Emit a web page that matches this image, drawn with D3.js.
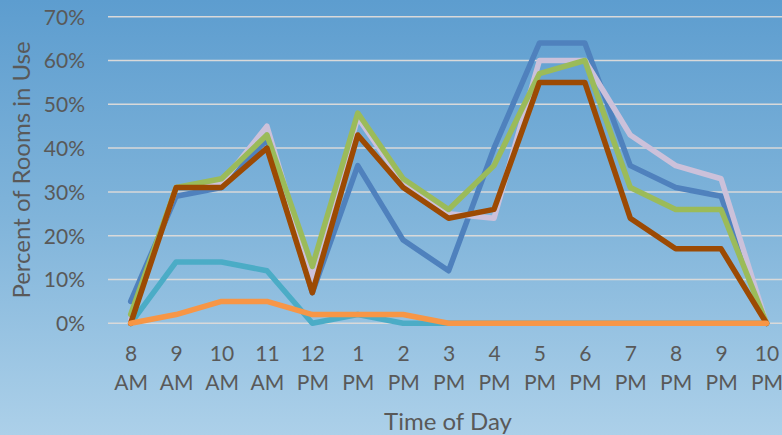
<!DOCTYPE html>
<html><head><meta charset="utf-8">
<script src="https://cdn.jsdelivr.net/npm/d3@7"></script>
<style>body{margin:0;overflow:hidden}svg{display:block}</style>
</head><body>
<svg id="c" width="782" height="435"></svg>
<script>
const hours = ["8","9","10","11","12","1","2","3","4","5","6","7","8","9","10"];
const periods = ["AM","AM","AM","AM","PM","PM","PM","PM","PM","PM","PM","PM","PM","PM","PM"];
const categories = hours.map((h,i)=>h+" "+periods[i]);
const yTicks = [0,10,20,30,40,50,60,70];
const seriesBlue     = [5,29,31,42,7,36,19,12,40,64,64,36,31,29,0];
const seriesLavender = [1,31,32,45,10,47,32,25,24,60,60,43,36,33,0];
const seriesGreen    = [2,31,33,43,13,48,33,26,36,57,60,31,26,26,0];
const seriesTeal     = [0,14,14,12,0,2,0,0,0,0,0,0,0,0,0];
const seriesBrown    = [0,31,31,40,7,43,31,24,26,55,55,24,17,17,0];
const seriesOrange   = [0,2,5,5,2,2,2,0,0,0,0,0,0,0,0];
const series = [
  {name:"Blue", values:seriesBlue, color:"#4f81bd"},
  {name:"Lavender", values:seriesLavender, color:"#ccc1da"},
  {name:"Green", values:seriesGreen, color:"#9bbb59"},
  {name:"Teal", values:seriesTeal, color:"#4bacc6"},
  {name:"Brown", values:seriesBrown, color:"#9c4a03"},
  {name:"Orange", values:seriesOrange, color:"#f79646"}
];

const W=782,H=435;
const svg=d3.select("#c");
const defs=svg.append("defs");
const g=defs.append("linearGradient").attr("id","bg").attr("x1",0).attr("y1",0).attr("x2",0).attr("y2",1);
g.append("stop").attr("offset","0%").attr("stop-color","#5d9dcf");
g.append("stop").attr("offset","50%").attr("stop-color","#80b4da");
g.append("stop").attr("offset","100%").attr("stop-color","#acd0e9");
svg.append("rect").attr("width",W).attr("height",H).attr("fill","url(#bg)");

const font="Lato, 'Noto Sans', sans-serif";
const x=d3.scalePoint().domain(d3.range(categories.length)).range([130.7,766.5]);
const y=d3.scaleLinear().domain([0,70]).range([323.3,16.7]);

// gridlines
svg.append("g").selectAll("line").data(yTicks).join("line")
  .attr("x1",108).attr("x2",W).attr("y1",d=>y(d)).attr("y2",d=>y(d))
  .attr("stroke","#d9d9d9").attr("stroke-width",1.5);

// y axis
const yAxis=d3.axisLeft(y).tickValues(yTicks).tickFormat(d=>d+"%").tickSize(0).tickPadding(0);
const ya=svg.append("g").attr("transform","translate(85,0)").call(yAxis);
ya.select(".domain").remove();
ya.selectAll("text").attr("font-family",font).attr("font-size",21).attr("fill","#595959").attr("dy","0.35em");

// x axis
const xAxis=d3.axisBottom(x).tickSize(0).tickFormat(()=>"" );
const xa=svg.append("g").attr("transform","translate(0,323.3)").call(xAxis);
xa.select(".domain").remove();
xa.selectAll(".tick text").each(function(d){
  const t=d3.select(this).text(null).attr("font-family",font).attr("font-size",21).attr("fill","#595959").attr("y",0).attr("dy",null);
  t.append("tspan").attr("x",0).attr("y",38).text(hours[d]);
  t.append("tspan").attr("x",0).attr("y",67).text(periods[d]);
});

// lines
const line=d3.line().x((d,i)=>x(i)).y(d=>y(d));
svg.append("g").selectAll("path").data(series).join("path")
  .attr("d",d=>line(d.values)).attr("fill","none").attr("stroke",d=>d.color)
  .attr("stroke-width",5.5).attr("stroke-linejoin","round").attr("stroke-linecap","round");

// titles
svg.append("text").attr("x",448).attr("y",430).attr("text-anchor","middle")
  .attr("font-family",font).attr("font-size",24).attr("fill","#595959").text("Time of Day");
svg.append("text").attr("transform","translate(30,170) rotate(-90)").attr("text-anchor","middle")
  .attr("font-family",font).attr("font-size",24).attr("fill","#595959").text("Percent of Rooms in Use");
</script>
</body></html>
